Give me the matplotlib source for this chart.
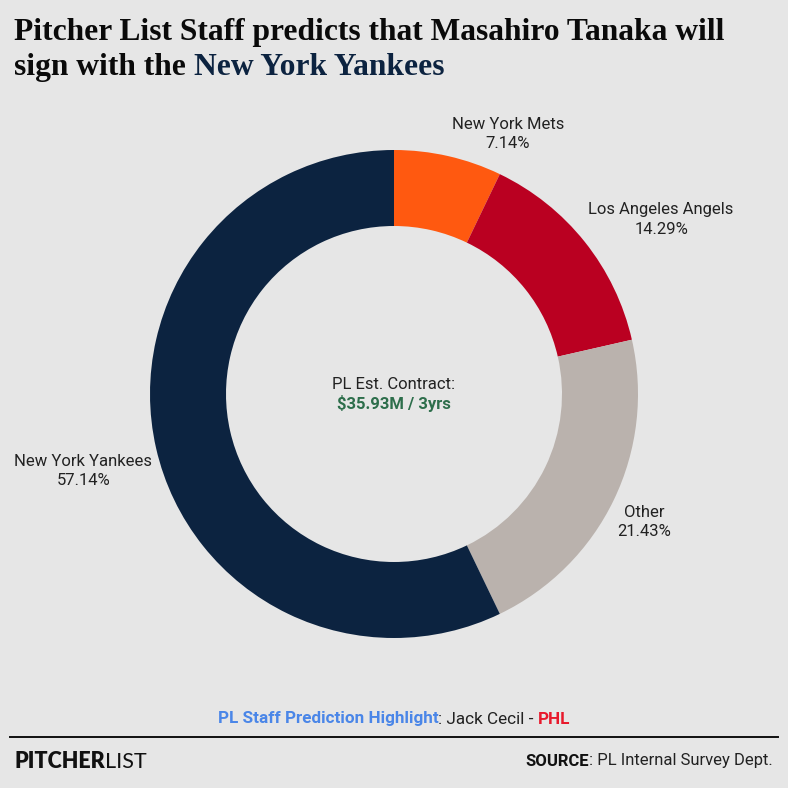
import matplotlib
matplotlib.use("Agg")
import matplotlib.pyplot as plt
import numpy as np

# ---- data ----
teams = ["New York Mets", "Los Angeles Angels", "Other", "New York Yankees"]
shares = [7.14, 14.29, 21.43, 57.14]
title_line1 = "Pitcher List Staff predicts that Masahiro Tanaka will"
title_line2_a = "sign with the "
title_line2_b = "New York Yankees"
center_label = "PL Est. Contract:"
center_value = "$35.93M / 3yrs"
highlight_parts = ["PL Staff Prediction Highlight", ": Jack Cecil - ", "PHL"]
source_parts = ["SOURCE", ": PL Internal Survey Dept."]
brand_parts = ["PITCHER", "LIST"]

# ---- style ----
slice_colors = ["#ff5910", "#ba0021", "#bab2ad", "#0c2340"]
BG = "#e6e6e6"
W = H = 788
SANS = ["Roboto", "DejaVu Sans"]
SERIF = ["Liberation Serif", "DejaVu Serif"]

fig = plt.figure(figsize=(W / 100, H / 100), dpi=100, facecolor=BG)
renderer = fig.canvas.get_renderer()

def fx(px):
    return px / W

def fy(py):
    return 1 - py / H

# ---- donut ----
cx, cy, R, ring = 394, 394, 244, 76
ax = fig.add_axes([0, 0, 1, 1])
ax.set_facecolor(BG)

wedges, _ = ax.pie(shares, colors=slice_colors, startangle=90, counterclock=False,
                   radius=1, wedgeprops=dict(width=ring / R, edgecolor="none", linewidth=0))
ax.set_xlim(-cx / R, (W - cx) / R)
ax.set_ylim(-(H - cy) / R, cy / R)
ax.set_aspect("equal")
ax.axis("off")

for w, name, v in zip(wedges, teams, shares):
    ang = np.deg2rad((w.theta1 + w.theta2) / 2)
    c, s = np.cos(ang), np.sin(ang)
    x = c + 0.015 * np.sign(c)
    y = s + 0.092 * np.sign(s)
    ax.text(x, y, f"{name}\n{v:.2f}%", ha="left" if c > 0 else "right", va="center",
            multialignment="center", fontsize=12, family=SANS, color="#222222",
            linespacing=1.35)

ax.text(0, 0.04, center_label, ha="center", va="center", fontsize=12,
        family=SANS, color="#222222")
ax.text(0, -0.04, center_value, ha="center", va="center", fontsize=12,
        family=SANS, color="#2d6e4b", fontweight="bold")

# ---- rich text helper ----
def rich(x_px, y_px, parts, ha="left", va="baseline"):
    texts = []
    for txt, props in parts:
        t = fig.text(0, 0, txt, va=va, ha="left", **props)
        texts.append(t)
    widths = [t.get_window_extent(renderer).width for t in texts]
    total = sum(widths)
    if ha == "center":
        start = x_px - total / 2
    elif ha == "right":
        start = x_px - total
    else:
        start = x_px
    pos = start
    for t, wdt in zip(texts, widths):
        t.set_position((fx(pos), fy(y_px)))
        pos += wdt
    return texts

# ---- title ----
t1 = fig.text(fx(14), fy(40), title_line1, family=SERIF, fontweight="bold",
              fontsize=20, color="#0a0a0a", va="baseline")
w1 = t1.get_window_extent(renderer).width
tfs = 20 * 711 / w1
t1.set_fontsize(tfs)
rich(14, 75, [(title_line2_a, dict(family=SERIF, fontweight="bold", fontsize=tfs, color="#0a0a0a")),
              (title_line2_b, dict(family=SERIF, fontweight="bold", fontsize=tfs, color="#0c2340"))])

# ---- highlight ----
rich(394, 719, [(highlight_parts[0], dict(family=SANS, fontsize=12.3, fontweight="bold", color="#4a86e8")),
                (highlight_parts[1], dict(family=SANS, fontsize=12.3, color="#222222")),
                (highlight_parts[2], dict(family=SANS, fontsize=12.3, fontweight="bold", color="#e8192c"))],
     ha="center", va="center")

# ---- rule ----
fig.add_artist(plt.Line2D([fx(10), fx(778)], [fy(737), fy(737)], color="#111111", linewidth=1.4))

# ---- footer ----
rich(14, 762, [(brand_parts[0], dict(family=["Lato", "DejaVu Sans"], fontsize=15.5, fontweight="heavy", color="#111111")),
               (brand_parts[1], dict(family=["Lato", "DejaVu Sans"], fontsize=15.5, fontweight="normal", color="#111111"))],
     va="center")
rich(773, 761, [(source_parts[0], dict(family=SANS, fontsize=12, fontweight="bold", color="#111111")),
                (source_parts[1], dict(family=SANS, fontsize=12, color="#222222"))],
     ha="right", va="center")

fig.savefig("out.png", dpi=100, facecolor=BG)
